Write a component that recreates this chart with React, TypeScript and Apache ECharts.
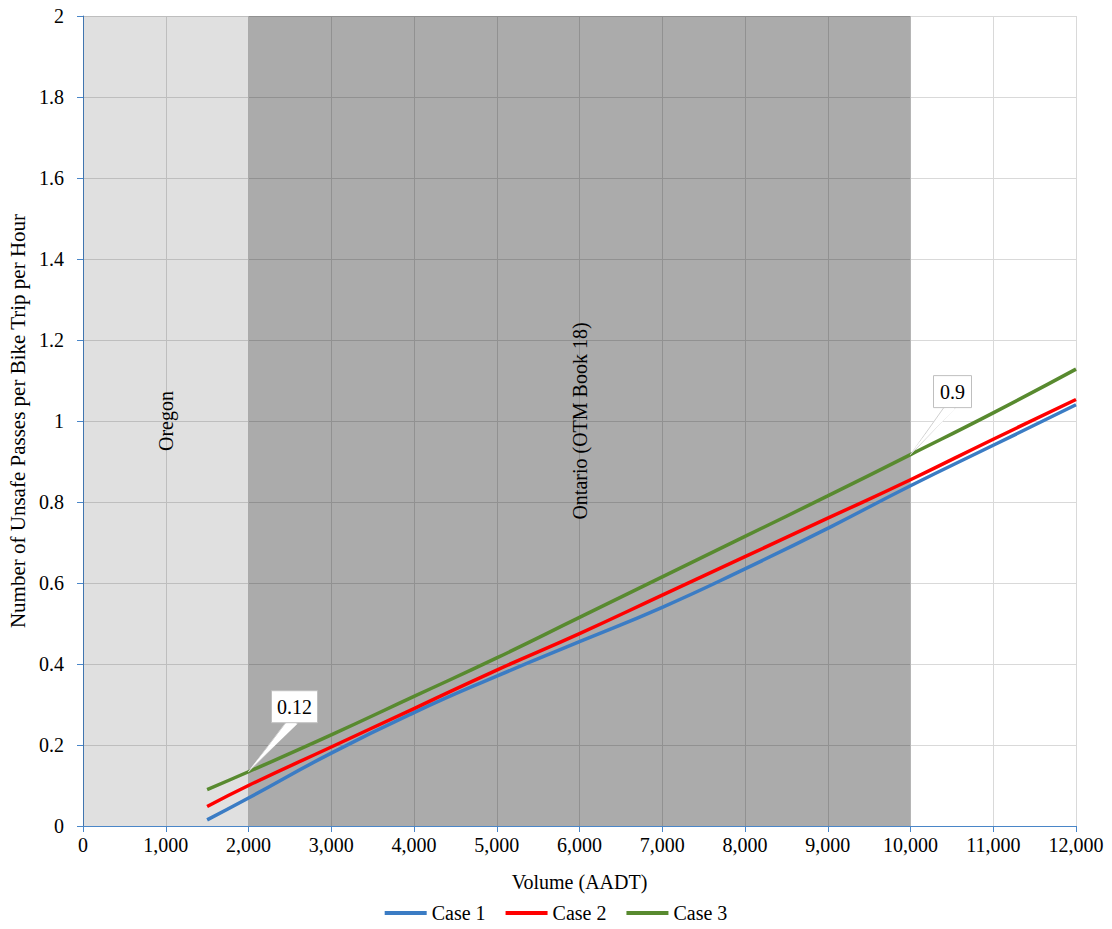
import React, { useEffect, useRef } from "react";
import * as echarts from "echarts";

const volumes = [1500, 2000, 3000, 4000, 5000, 6000, 7000, 8000, 9000, 10000, 11000, 12000];
const case1 = [0.015, 0.069, 0.18, 0.28, 0.37, 0.455, 0.54, 0.635, 0.735, 0.84, 0.94, 1.04];
const case2 = [0.048, 0.1, 0.195, 0.29, 0.385, 0.475, 0.57, 0.665, 0.76, 0.855, 0.955, 1.053];
const case3 = [0.09, 0.134, 0.225, 0.32, 0.415, 0.515, 0.615, 0.715, 0.815, 0.917, 1.02, 1.128];
const seriesNames = ["Case 1", "Case 2", "Case 3"];
const seriesColors = ["#3b7cc4", "#ff0000", "#588a2f"];
const regions = [
  { name: "Oregon", from: 0, to: 2000, color: "rgba(0,0,0,0.12)" },
  { name: "Ontario (OTM Book 18)", from: 2000, to: 10000, color: "rgba(0,0,0,0.33)" },
];
const callouts = [
  { text: "0.12", x: 2000, y: 0.134, dx: 46, dy: -65 },
  { text: "0.9", x: 10000, y: 0.917, dx: 42, dy: -63 },
];

const FONT = "'Liberation Serif', 'Times New Roman', serif";
const AXIS_BLUE = "#4a86c8";

export default function App() {
  const ref = useRef<HTMLDivElement>(null);
  useEffect(() => {
    if (!ref.current) return;
    const chart = echarts.init(ref.current, undefined, { renderer: "svg" });
    const datasets = [case1, case2, case3];
    const series: any[] = seriesNames.map((name, i) => ({
      name,
      type: "line",
      smooth: true,
      showSymbol: false,
      symbol: "none",
      data: volumes.map((v, j) => [v, datasets[i][j]]),
      lineStyle: { color: seriesColors[i], width: 3.5 },
      itemStyle: { color: seriesColors[i] },
      z: 5,
    }));
    series[0].markArea = {
      silent: true,
      z: 1,
      data: regions.map((r) => [
        {
          name: r.name,
          xAxis: r.from,
          itemStyle: { color: r.color },
          label: {
            show: true,
            position: "inside",
            rotate: 90,
            color: "#000",
            fontFamily: FONT,
            fontSize: 20,
          },
        },
        { xAxis: r.to },
      ]),
    };
    chart.setOption({
      animation: false,
      textStyle: { fontFamily: FONT },
      grid: { left: 83, right: 36, top: 16, bottom: 103, containLabel: false, outerBoundsMode: "none" },
      legend: {
        bottom: 1,
        left: "center",
        data: seriesNames,
        icon: "rect",
        itemWidth: 42,
        itemHeight: 4,
        itemGap: 20,
        textStyle: { fontFamily: FONT, fontSize: 20, color: "#000" },
      },
      xAxis: {
        type: "value",
        min: 0,
        max: 12000,
        interval: 1000,
        name: "Volume (AADT)",
        nameLocation: "middle",
        nameGap: 46,
        nameTextStyle: { fontFamily: FONT, fontSize: 20, color: "#000" },
        axisLine: { show: true, lineStyle: { color: AXIS_BLUE, width: 1 } },
        axisTick: { show: true, length: 6, lineStyle: { color: AXIS_BLUE } },
        axisLabel: {
          fontFamily: FONT,
          fontSize: 20,
          color: "#000",
          margin: 9,
          formatter: (v: number) => v.toLocaleString("en-US"),
        },
        splitLine: { show: true, lineStyle: { color: "#d9d9d9", width: 1 } },
      },
      yAxis: {
        type: "value",
        min: 0,
        max: 2,
        interval: 0.2,
        name: "Number of Unsafe Passes per Bike Trip per Hour",
        nameLocation: "middle",
        nameGap: 54,
        nameTextStyle: { fontFamily: FONT, fontSize: 21, color: "#000" },
        axisLine: { show: true, lineStyle: { color: AXIS_BLUE, width: 1 } },
        axisTick: { show: true, length: 6, lineStyle: { color: AXIS_BLUE } },
        axisLabel: {
          fontFamily: FONT,
          fontSize: 20,
          color: "#000",
          margin: 19,
          formatter: (v: number) => String(Math.round(v * 10) / 10),
        },
        splitLine: { show: true, lineStyle: { color: "#d9d9d9", width: 1 } },
      },
      series,
    });

    const graphics: any[] = [];
    callouts.forEach((c) => {
      const p = chart.convertToPixel({ gridIndex: 0 }, [c.x, c.y]) as number[];
      const bx = p[0] + c.dx;
      const by = p[1] + c.dy;
      const w = c.text.length > 3 ? 46 : 38;
      const h = 32;
      graphics.push(
        {
          type: "polygon",
          z: 100,
          shape: {
            points: [
              [p[0], p[1]],
              [bx - 8, by + h / 2 - 1],
              [bx + 4, by + h / 2 - 1],
            ],
          },
          style: { fill: "#ffffff", stroke: "#d0d0d0", lineWidth: 1 },
        },
        {
          type: "rect",
          z: 101,
          shape: { x: bx - w / 2, y: by - h / 2, width: w, height: h },
          style: { fill: "#ffffff", stroke: "#bfbfbf", lineWidth: 1 },
        },
        {
          type: "polygon",
          z: 102,
          shape: {
            points: [
              [p[0] + 1, p[1] - 2],
              [bx - 7, by + h / 2 + 1],
              [bx + 3, by + h / 2 + 1],
            ],
          },
          style: { fill: "#ffffff" },
        },
        {
          type: "text",
          z: 103,
          x: bx,
          y: by,
          style: {
            text: c.text,
            fontFamily: FONT,
            fontSize: 20,
            fill: "#000",
            align: "center",
            verticalAlign: "middle",
          },
        }
      );
    });
    chart.setOption({ graphic: graphics });

    return () => chart.dispose();
  }, []);
  return <div ref={ref} style={{ width: 1112, height: 929, position: "absolute", left: 0, top: 0 }} />;
}
